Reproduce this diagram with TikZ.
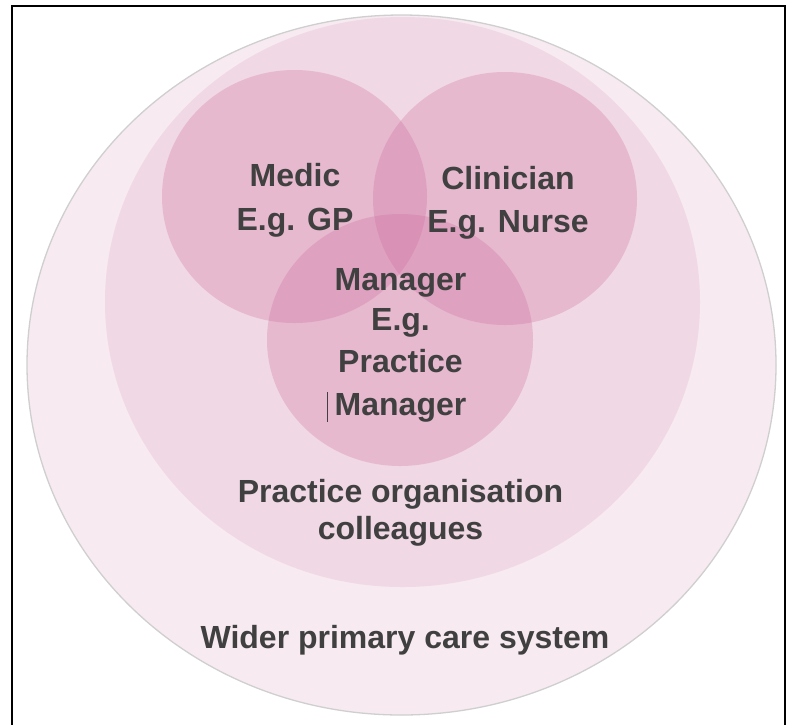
\documentclass[tikz,border=0pt]{standalone}
\usepackage{fontspec}
\setmainfont{Liberation Sans}
\usetikzlibrary{shapes.geometric}
\definecolor{outerfill}{HTML}{F7EAF1}
\definecolor{outerline}{HTML}{CFCFCF}
\definecolor{midfill}{HTML}{F0D8E4}
\definecolor{circfill}{HTML}{CC6699}
\definecolor{txt}{HTML}{404040}
\tikzset{
  ring/.style={ellipse, inner sep=0pt, outer sep=0pt},
  petal/.style={ring, fill=circfill, fill opacity=0.27, draw=none},
  lbl/.style={anchor=base, inner sep=0pt, text=txt, font=\fontsize{32}{36}\selectfont\bfseries},
}
\begin{document}
\begin{tikzpicture}[x=1pt,y=-1pt]
\useasboundingbox (0,0) rectangle (789,724);
% frame
\coordinate (fbl) at (12,730);
\coordinate (ftl) at (12,6);
\coordinate (ftr) at (785,6);
\coordinate (fbr) at (785,730);
\draw[line width=2.4pt, black] (fbl) -- (ftl) -- (ftr) -- (fbr);
% outer and middle ellipses
\node[ring, fill=outerfill, draw=outerline, line width=1.3pt, minimum width=749pt, minimum height=700pt] (outer) at (401.5,365) {};
\node[ring, fill=midfill, minimum width=595pt, minimum height=570pt] (middle) at (402.5,302) {};
% three circles
\node[petal, minimum width=265pt, minimum height=253pt] (medic) at (294.5,196.5) {};
\node[petal, minimum width=264pt, minimum height=253pt] (clinician) at (505,198.5) {};
\node[petal, minimum width=266pt, minimum height=252pt] (manager) at (400,340) {};
% labels
\node[lbl] (m1) at (295,186) {Medic};
\node[lbl] (m2) at (295,230) {E.g. GP};
\node[lbl] (c1) at (508,189) {Clinician};
\node[lbl] (c2) at (508,232) {E.g. Nurse};
\node[lbl] (g1) at (400.5,290) {Manager};
\node[lbl] (g2) at (400.5,330) {E.g.};
\node[lbl] (g3) at (400.5,372) {Practice};
\node[lbl] (g4) at (400.5,415) {Manager};
\coordinate (caretTop) at (327,392);
\coordinate (caretBot) at (327,422);
\draw[line width=1pt, txt] (caretTop) -- (caretBot);
\node[lbl] (p1) at (400.5,502) {Practice organisation};
\node[lbl] (p2) at (400.5,539) {colleagues};
\node[lbl] (w1) at (405,648) {Wider primary care system};
\end{tikzpicture}
\end{document}
